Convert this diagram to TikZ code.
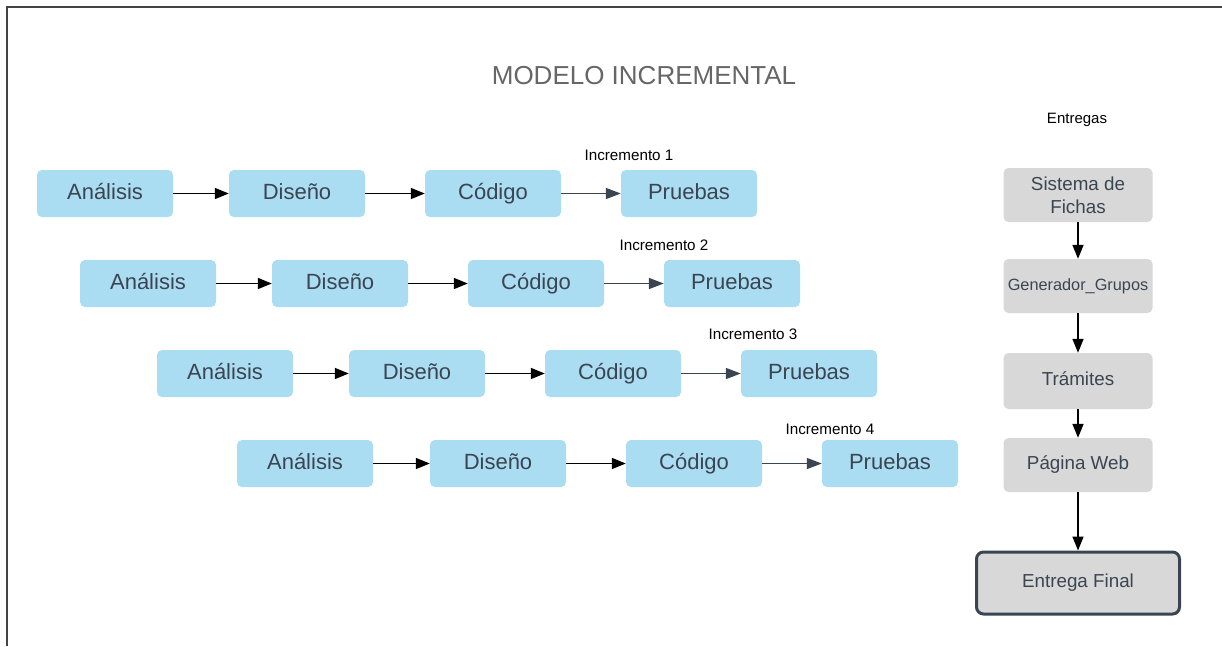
\documentclass[tikz,border=0pt]{standalone}
\usepackage{fontspec}
\setmainfont{Liberation Sans}
\usetikzlibrary{arrows.meta}
\definecolor{boxblue}{HTML}{AADCF2}
\definecolor{boxgray}{HTML}{D8D8D8}
\definecolor{txt}{HTML}{3B4552}
\definecolor{titlegray}{HTML}{666666}
\definecolor{framegray}{HTML}{444444}
\tikzset{
  phase/.style={fill=boxblue, rounded corners=5pt, minimum width=136pt, minimum height=47pt, inner sep=0pt, text height=16pt, text depth=5pt, text=txt, font=\fontsize{22}{26}\selectfont},
  deliv/.style={fill=boxgray, rounded corners=5pt, minimum width=149pt, minimum height=54pt, inner sep=0pt, text=txt, align=center, font=\fontsize{18.8}{23}\selectfont},
  final/.style={fill=boxgray, draw=txt, line width=3pt, rounded corners=7pt, minimum width=203pt, minimum height=62pt, inner sep=0pt, text height=13.5pt, text depth=4pt, text=txt, font=\fontsize{18.8}{23}\selectfont},
  blackarr/.style={draw=black, line width=1.6pt, -{Triangle[length=14pt,width=11pt]}},
  slatearr/.style={draw=txt, line width=1.5pt, -{Triangle[length=15pt,width=11pt]}},
  inclabel/.style={font=\fontsize{15.2}{18}\selectfont, text=black, inner sep=0pt},
}
\begin{document}
\begin{tikzpicture}[x=1pt,y=-1pt]
\useasboundingbox (0,0) rectangle (1222,646);
% frame
\draw[framegray, line width=2pt] (1222,7) -- (7,7) -- (7,646);
% title
\node[font=\fontsize{26}{30}\selectfont, text=titlegray, inner sep=0pt] (title) at (644,76) {MODELO INCREMENTAL};
% rows
\foreach \r/\y/\xa/\xb/\xc/\xd in {1/193.5/105/297/493/689, 2/283.5/148/340/536/732, 3/373.5/225/417/613/809, 4/463.5/305/498/694/890}{
  \node[phase] (a\r) at (\xa,\y) {Análisis};
  \node[phase] (d\r) at (\xb,\y) {Diseño};
  \node[phase] (c\r) at (\xc,\y) {Código};
  \node[phase] (p\r) at (\xd,\y) {Pruebas};
  \draw[blackarr] (a\r) -- (d\r);
  \draw[blackarr] (d\r) -- (c\r);
  \draw[slatearr] (c\r) -- (p\r);
}
\node[inclabel] (i1) at (629,155) {Incremento 1};
\node[inclabel] (i2) at (664,245) {Incremento 2};
\node[inclabel] (i3) at (753,334) {Incremento 3};
\node[inclabel] (i4) at (830,429) {Incremento 4};
% deliveries
\node[inclabel, font=\fontsize{15}{18}\selectfont] (ent) at (1077,120) {Entregas};
\node[deliv] (e1) at (1078,195) {Sistema de\\Fichas};
\node[deliv, font=\fontsize{16.3}{20}\selectfont, text height=12pt, text depth=4pt] (e2) at (1078,286) {Generador\_Grupos};
\node[deliv, minimum height=56pt, text height=13.5pt, text depth=4pt] (e3) at (1078,381) {Trámites};
\node[deliv, text height=13.5pt, text depth=4pt] (e4) at (1078,465) {Página Web};
\node[final] (e5) at (1078,583) {Entrega Final};
\draw[blackarr] (e1) -- (e2);
\draw[blackarr] (e2) -- (e3);
\draw[blackarr] (e3) -- (e4);
\draw[blackarr] (e4) -- (e5);
\end{tikzpicture}
\end{document}
